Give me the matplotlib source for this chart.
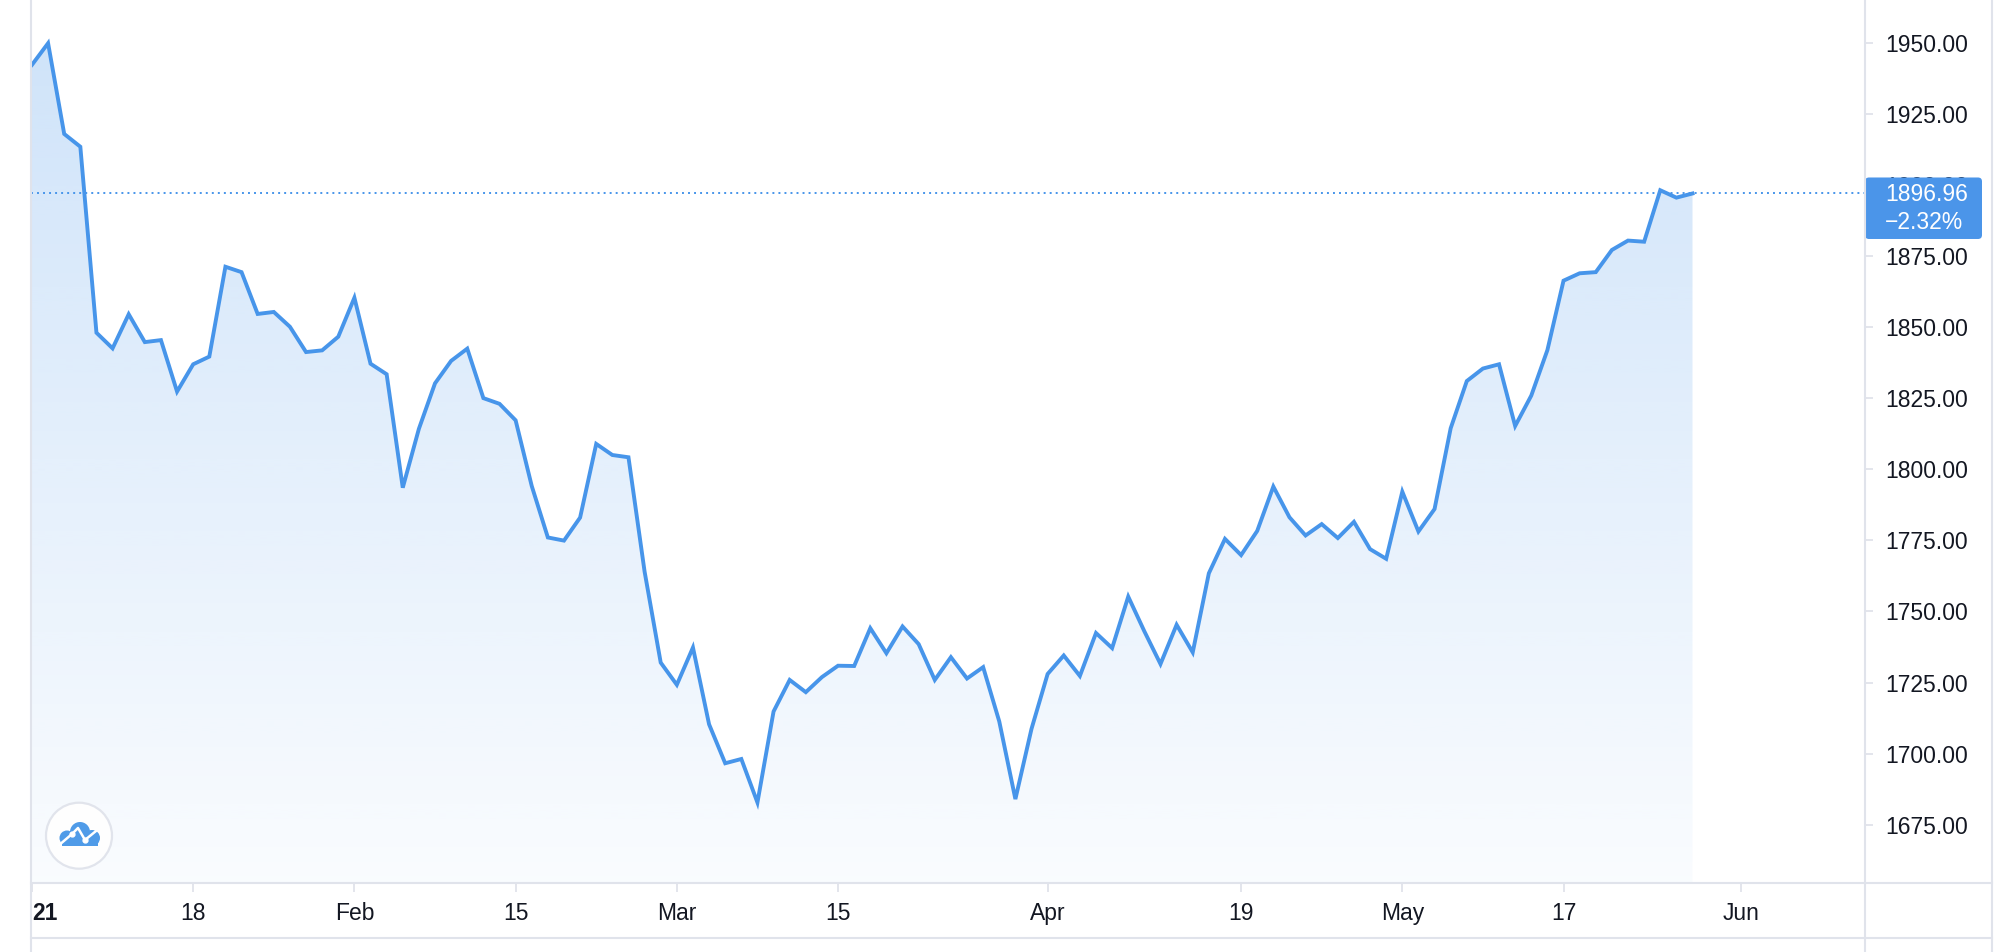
import numpy as np
import pandas as pd
import matplotlib
matplotlib.use('Agg')
from matplotlib import pyplot as plt
from matplotlib.patches import FancyBboxPatch, Circle, Rectangle
from matplotlib.lines import Line2D

plt.rcParams['font.family'] = ['Liberation Sans', 'DejaVu Sans']

# DATA - daily close, one value per weekday from Jan 4 2021
first_day = '2021-01-04'
closes = [
    1942.2, 1949.8, 1917.9, 1913.4, 1848.0, 1842.5, 1854.5, 1844.7, 1845.4, 1827.3,
    1836.9, 1839.6, 1871.2, 1869.3, 1854.6, 1855.3, 1850.1, 1841.2, 1841.8, 1846.6,
    1860.3, 1837.1, 1833.4, 1793.5, 1814.2, 1830.2, 1838.1, 1842.4, 1825.0, 1823.0,
    1817.2, 1794.1, 1776.0, 1774.9, 1783.0, 1808.9, 1805.0, 1804.2, 1764.0, 1732.0,
    1724.2, 1737.3, 1710.3, 1696.6, 1698.1, 1682.8, 1714.8, 1725.9, 1721.6, 1726.9,
    1730.9, 1730.8, 1744.1, 1735.3, 1744.7, 1738.5, 1725.9, 1733.9, 1726.4, 1730.4,
    1711.3, 1684.0, 1708.7, 1728.0, 1734.5, 1727.3, 1742.4, 1737.1, 1755.2, 1743.0,
    1731.5, 1745.3, 1735.6, 1763.4, 1775.5, 1769.8, 1778.3, 1793.9, 1783.1, 1776.7,
    1780.7, 1775.8, 1781.5, 1771.9, 1768.5, 1792.1, 1778.1, 1786.0, 1814.4, 1831.0,
    1835.4, 1836.9, 1815.2, 1825.9, 1841.9, 1866.3, 1868.9, 1869.3, 1877.1, 1880.4,
    1880.0, 1898.1, 1895.5, 1896.96,
]
last_change = '\u22122.32%'
tick_dates = ['2021-01-04', '2021-01-18', '2021-02-01', '2021-02-15', '2021-03-01',
              '2021-03-15', '2021-04-01', '2021-04-19', '2021-05-03', '2021-05-17',
              '2021-06-01']
tick_labels = ['21', '18', 'Feb', '15', 'Mar', '15', 'Apr', '19', 'May', '17', 'Jun']
price_ticks = [1675, 1700, 1725, 1750, 1775, 1800, 1825, 1850, 1875, 1900, 1925, 1950]

# COLORS
blue = '#4795ea'
grid_col = '#e0e3eb'
text_col = '#131722'

# bar index on x (weekdays only, like the trading view)
days = pd.bdate_range(first_day, '2021-07-30')
x = np.arange(len(closes))
tick_pos = [days.get_loc(pd.Timestamp(d)) for d in tick_dates]

W, H = 2008, 952
L, R, B = 31, 1865, 882.7
fig = plt.figure(figsize=(W / 100, H / 100), dpi=100)
ax = fig.add_axes([L / W, 1 - B / H, (R - L) / W, B / H])

x_lim = (-0.06, 113.7)
y_lim = (1654.6, 1965.0)

# gradient fill under the line
rgba = np.zeros((256, 1, 4))
rgba[..., :3] = matplotlib.colors.to_rgb(blue)
rgba[..., 3] = np.linspace(0.27, 0.03, 256)[:, None]
im = ax.imshow(rgba, extent=[x_lim[0], x_lim[1], y_lim[0], y_lim[1]],
               aspect='auto', origin='upper', zorder=1, interpolation='bilinear')
area = ax.fill_between(x, closes, y_lim[0], facecolor='none', edgecolor='none')
im.set_clip_path(area.get_paths()[0], transform=ax.transData)

ax.plot(x, closes, color=blue, lw=2.8, solid_joinstyle='miter', zorder=3)
ax.axhline(closes[-1], color=blue, lw=1.4, linestyle=(0, (1, 2.1)), zorder=2)

ax.set_xlim(*x_lim)
ax.set_ylim(*y_lim)
for s in ax.spines.values():
    s.set_visible(False)

ax.yaxis.tick_right()
ax.set_yticks(price_ticks, ['%.2f' % p for p in price_ticks])
ax.tick_params(axis='y', length=5.8, width=1.3, color=grid_col, pad=8.6,
               labelsize=16.5, labelcolor=text_col)
ax.set_xticks(tick_pos, tick_labels)
ax.tick_params(axis='x', length=6.5, width=1.3, color=grid_col, pad=7.5,
               labelsize=16.5, labelcolor=text_col)
first = ax.get_xticklabels()[0]
first.set_ha('left')
first.set_fontweight('bold')

# OVERLAY IN PIXELS (borders, price label, logo)
ov = fig.add_axes([0, 0, 1, 1], zorder=10)
ov.set_xlim(0, W)
ov.set_ylim(H, 0)
ov.axis('off')
ov.patch.set_alpha(0)

for xs, ys in [([L, L], [0, H]), ([R, R], [0, H]), ([1992, 1992], [0, H]),
               ([L, 1992], [B, B]), ([L, 1992], [938, 938])]:
    ov.add_line(Line2D(xs, ys, color=grid_col, lw=1.5))

# last price label
y_last = H - ax.transData.transform((0, closes[-1]))[1]
box = FancyBboxPatch((R, y_last - 16), 117, 61.5, boxstyle='round,pad=0,rounding_size=4',
                     fc='#4b95e9', ec='none')
ov.add_patch(box)
ov.text(1885, y_last + 1, '%.2f' % closes[-1], color='white', fontsize=16.5,
        ha='left', va='center')
ov.text(1885, y_last + 29, last_change, color='white', fontsize=16.5,
        ha='left', va='center')

# logo
ov.add_patch(Circle((79, 835.7), 33, fc='white', ec=grid_col, lw=1.6, alpha=0.95))
cloud = '#4f9be8'
ov.add_patch(Circle((80, 832), 10, fc=cloud, ec='none'))
ov.add_patch(Circle((67, 838), 7.5, fc=cloud, ec='none'))
ov.add_patch(Circle((92, 838), 8, fc=cloud, ec='none'))
ov.add_patch(Rectangle((62, 838), 36, 8, fc=cloud, ec='none'))
zx = [58, 72, 78, 85, 96]
zy = [846, 834, 828, 840, 831]
ov.plot(zx, zy, color='white', lw=1.8)
ov.plot([72, 85], [834, 840], 'o', color='white', ms=3.5)

plt.savefig('out.png', dpi=100)
